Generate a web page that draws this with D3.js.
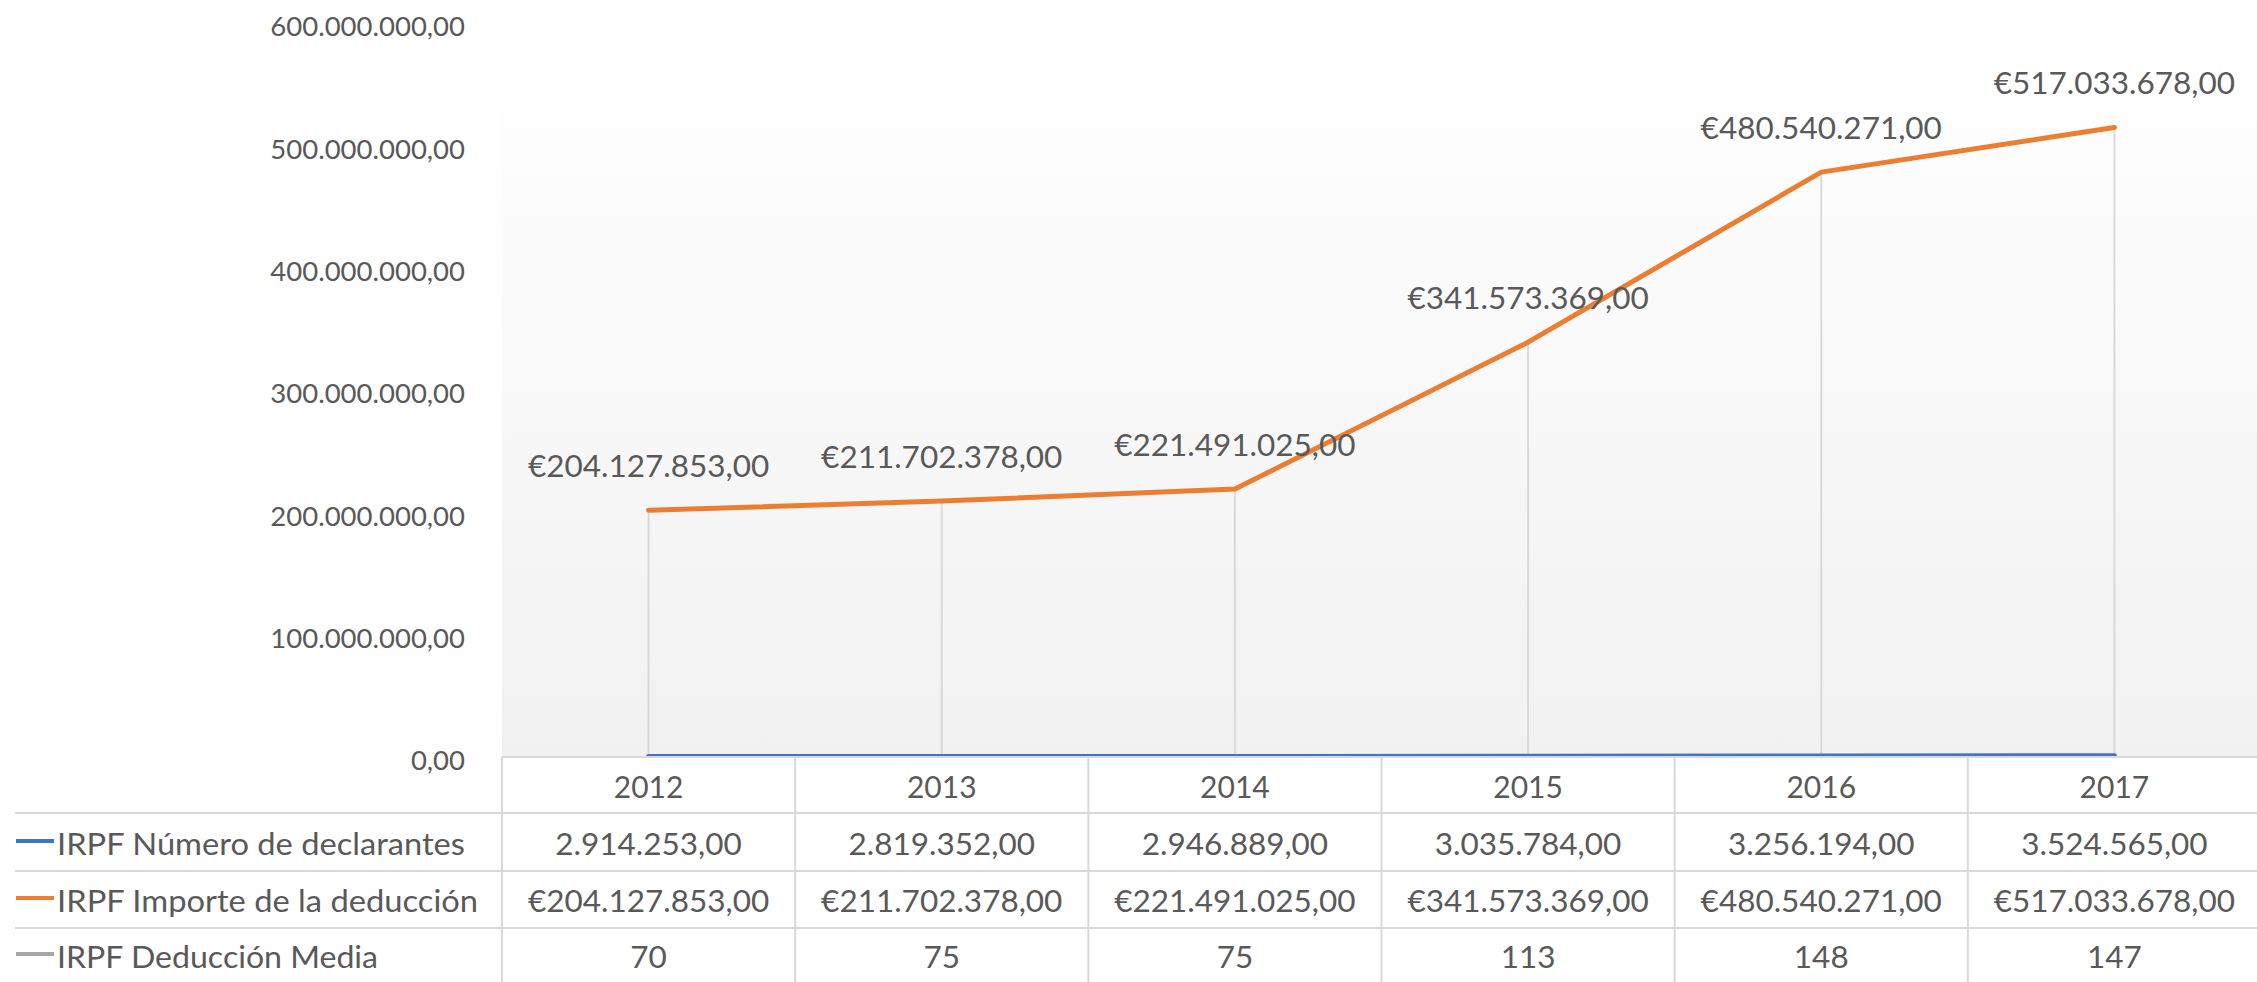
<!DOCTYPE html>
<html>
<head>
<meta charset="utf-8">
<script src="https://cdn.jsdelivr.net/npm/d3@7"></script>
<style>
  body { margin: 0; background: #fff; }
  svg text { font-family: Lato, "Open Sans", sans-serif; fill: #595959; }
</style>
</head>
<body>
<svg id="chart" width="2257" height="982"></svg>
<script>
// data
var years = ["2012", "2013", "2014", "2015", "2016", "2017"];
var declarantes = [2914253, 2819352, 2946889, 3035784, 3256194, 3524565];
var importe = [204127853, 211702378, 221491025, 341573369, 480540271, 517033678];
var media = [70, 75, 75, 113, 148, 147];
var yTicks = [0, 100000000, 200000000, 300000000, 400000000, 500000000, 600000000];
var seriesNames = ["IRPF Número de declarantes", "IRPF Importe de la deducción", "IRPF Deducción Media"];
var seriesColors = ["#4472c4", "#ed7d31", "#a5a5a5"];

var es = d3.formatLocale({ decimal: ",", thousands: ".", grouping: [3], currency: ["€", ""] });
var fmtNum = es.format(",.2f");
var fmtEur = es.format("$,.2f");
var fmtInt = es.format("d");

var svg = d3.select("#chart");
var W = 2257, H = 982;
var plotLeft = 502, plotRight = 2261, plotTop = 108, axisY = 757;

var x = d3.scaleBand().domain(years).range([plotLeft, plotRight]);
var y = d3.scaleLinear().domain([0, 600000000]).range([760, 26]);
var cx = function (d) { return x(d) + x.bandwidth() / 2; };

// plot area gradient
var defs = svg.append("defs");
var grad = defs.append("linearGradient").attr("id", "bg").attr("x1", 0).attr("y1", 0).attr("x2", 0).attr("y2", 1);
grad.append("stop").attr("offset", "0%").attr("stop-color", "#fefefe");
grad.append("stop").attr("offset", "100%").attr("stop-color", "#f1f1f1");
defs.append("clipPath").attr("id", "clip").append("rect")
    .attr("x", plotLeft).attr("y", 0).attr("width", W - plotLeft).attr("height", axisY);

svg.append("rect").attr("x", plotLeft).attr("y", plotTop)
    .attr("width", W - plotLeft).attr("height", axisY - plotTop).attr("fill", "url(#bg)");

// y axis labels
var yAxis = svg.append("g").attr("transform", "translate(" + plotLeft + ",0)")
    .call(d3.axisLeft(y).tickValues(yTicks).tickFormat(fmtNum).tickSize(0).tickPadding(37));
yAxis.select(".domain").remove();
yAxis.selectAll("text").attr("font-size", 27.5).attr("dy", "0.36em")
    .style("font-family", "Lato, sans-serif").attr("fill", "#595959");

// drop lines
var plot = svg.append("g").attr("clip-path", "url(#clip)");
plot.selectAll("line.drop").data(years).enter().append("line")
    .attr("class", "drop")
    .attr("x1", cx).attr("x2", cx)
    .attr("y1", function (d, i) { return y(importe[i]); })
    .attr("y2", axisY)
    .attr("stroke", "#d9d9d9").attr("stroke-width", 2);

// series lines
var seriesData = [declarantes, importe, media];
var line = d3.line().x(function (d, i) { return cx(years[i]); }).y(function (d) { return y(d); });
[2, 0, 1].forEach(function (s) {
  plot.append("path").datum(seriesData[s])
      .attr("d", line)
      .attr("fill", "none")
      .attr("stroke", seriesColors[s])
      .attr("stroke-width", 5)
      .attr("stroke-linejoin", "round")
      .attr("stroke-linecap", "round");
});

// data labels
svg.selectAll("text.lbl").data(importe).enter().append("text")
    .attr("class", "lbl")
    .attr("x", function (d, i) { return cx(years[i]); })
    .attr("y", function (d) { return y(d) - 33; })
    .attr("text-anchor", "middle")
    .attr("font-size", 31.5)
    .text(function (d) { return fmtEur(d); });

// data table
var rowLines = [813, 871, 928];
var tbl = svg.append("g");
tbl.append("line").attr("x1", plotLeft).attr("x2", W).attr("y1", axisY).attr("y2", axisY)
    .attr("stroke", "#d9d9d9").attr("stroke-width", 2);
tbl.selectAll("line.h").data(rowLines).enter().append("line")
    .attr("class", "h")
    .attr("x1", 15).attr("x2", W)
    .attr("y1", function (d) { return d; }).attr("y2", function (d) { return d; })
    .attr("stroke", "#d9d9d9").attr("stroke-width", 2);
tbl.selectAll("line.v").data(years).enter().append("line")
    .attr("class", "v")
    .attr("x1", function (d) { return x(d); }).attr("x2", function (d) { return x(d); })
    .attr("y1", axisY).attr("y2", H)
    .attr("stroke", "#d9d9d9").attr("stroke-width", 2);

tbl.selectAll("text.yr").data(years).enter().append("text")
    .attr("class", "yr")
    .attr("x", cx).attr("y", 798)
    .attr("text-anchor", "middle").attr("font-size", 30)
    .text(function (d) { return d; });

var rowFormats = [fmtNum, fmtEur, fmtInt];
var baselines = [855, 912, 968];
var labelWidths = [408, 421, 321];
seriesData.forEach(function (vals, s) {
  tbl.append("line")
      .attr("x1", 16).attr("x2", 54)
      .attr("y1", baselines[s] - 14).attr("y2", baselines[s] - 14)
      .attr("stroke", seriesColors[s]).attr("stroke-width", 4);
  tbl.append("text")
      .attr("x", 57).attr("y", baselines[s])
      .attr("font-size", 30.5)
      .attr("textLength", labelWidths[s])
      .attr("lengthAdjust", "spacingAndGlyphs")
      .text(seriesNames[s]);
  tbl.selectAll("text.v" + s).data(vals).enter().append("text")
      .attr("class", "v" + s)
      .attr("x", function (d, i) { return cx(years[i]); })
      .attr("y", baselines[s])
      .attr("text-anchor", "middle").attr("font-size", 31.5)
      .text(function (d) { return rowFormats[s](d); });
});
</script>
</body>
</html>
